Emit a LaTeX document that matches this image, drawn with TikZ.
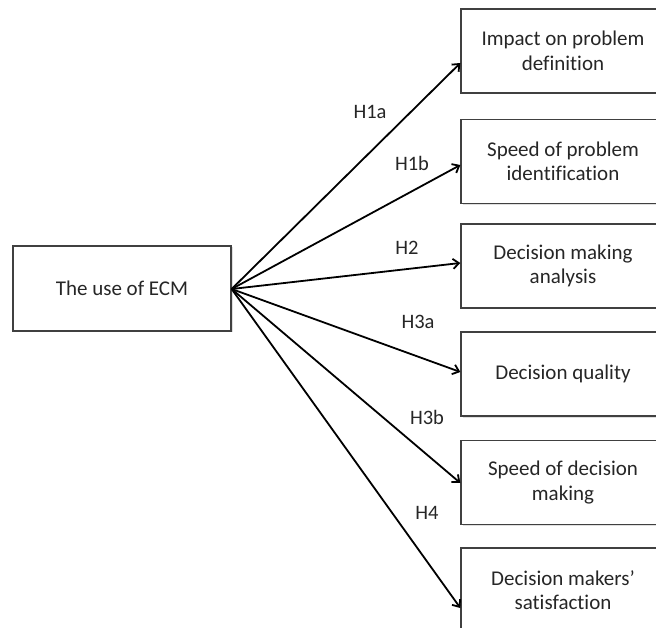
\documentclass[tikz,border=0pt]{standalone}
\usepackage{fontspec}
\setmainfont[Ligatures=NoCommon]{Carlito}
\usetikzlibrary{arrows.meta,calc,shadows}
\begin{document}
\begin{tikzpicture}[x=1pt,y=-1pt,
  box/.style={draw=black!75,line width=1.3pt,fill=white,minimum width=204pt,minimum height=84pt,
    align=center,inner sep=0pt,font=\fontsize{21}{24.5}\selectfont,text=black!85,
    drop shadow={shadow xshift=1.5pt,shadow yshift=-1.5pt,opacity=0.25,fill=black!50}},
  arr/.style={line width=1.8pt,-{Straight Barb[length=6pt,width=10pt,line width=1.8pt]}},
  lab/.style={font=\fontsize{20.5}{24}\selectfont,text=black!85,inner sep=0pt}]
\useasboundingbox (0,0) rectangle (656,628);
\clip (0,0) rectangle (656,628);
\node[box,minimum width=218pt,minimum height=85pt] (src) at (122,288.5) {The use of ECM};
\node[box] (b1) at (563,51) {Impact on problem\\definition};
\node[box] (b2) at (563,161.5) {Speed of problem\\identification};
\node[box] (b3) at (563,266) {Decision making\\analysis};
\node[box] (b4) at (563,374) {Decision quality};
\node[box] (b5) at (563,482.5) {Speed of decision\\making};
\node[box] (b6) at (563,590) {Decision makers’\\satisfaction};
\coordinate (o) at ($(src.east)+(0,0.5)$);
\coordinate (t1) at ($(b1.west)+(0,12)$);
\coordinate (t2) at ($(b2.west)+(0,3.5)$);
\coordinate (t3) at ($(b3.west)+(0,-3)$);
\coordinate (t4) at ($(b4.west)+(0,-2)$);
\coordinate (t5) at ($(b5.west)+(0,0.5)$);
\coordinate (t6) at ($(b6.west)+(0,18)$);
\foreach \t in {t1,t2,t3,t4,t5,t6} \draw[arr] (o) -- (\t);
\node[lab] (l1) at (370,112) {H1a};
\node[lab] (l2) at (412,163) {H1b};
\node[lab] (l3) at (407,248) {H2};
\node[lab] (l4) at (418,322) {H3a};
\node[lab] (l5) at (427,417) {H3b};
\node[lab] (l6) at (427,513) {H4};
\end{tikzpicture}
\end{document}
